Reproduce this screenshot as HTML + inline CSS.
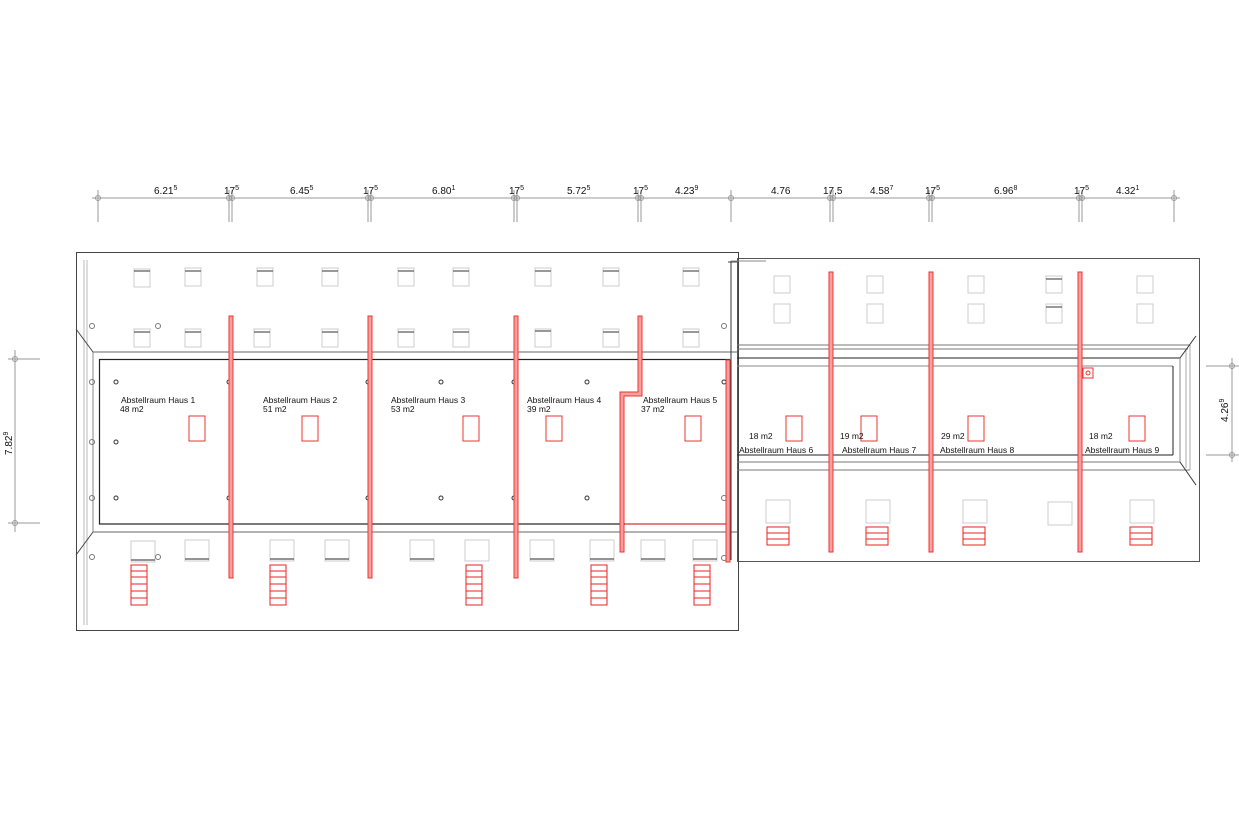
<!DOCTYPE html>
<html><head><meta charset="utf-8"><style>
html,body{margin:0;padding:0;background:#fff;width:1239px;height:820px;overflow:hidden}
svg{display:block}
text{font-family:"Liberation Sans",Arial,sans-serif;fill:#111}
</style></head><body>
<svg width="1239" height="820" viewBox="0 0 1239 820" xmlns="http://www.w3.org/2000/svg">
<!-- dimension line top -->
<g stroke="#999" stroke-width="1" fill="none">
<line x1="92" y1="198" x2="1180" y2="198"/>
<line x1="98" y1="190" x2="98" y2="222"/>
<line x1="229" y1="190" x2="229" y2="222"/><line x1="232" y1="190" x2="232" y2="222"/>
<line x1="368" y1="190" x2="368" y2="222"/><line x1="371" y1="190" x2="371" y2="222"/>
<line x1="514" y1="190" x2="514" y2="222"/><line x1="517" y1="190" x2="517" y2="222"/>
<line x1="638" y1="190" x2="638" y2="222"/><line x1="641" y1="190" x2="641" y2="222"/>
<line x1="731" y1="190" x2="731" y2="222"/>
<line x1="830" y1="190" x2="830" y2="222"/><line x1="833" y1="190" x2="833" y2="222"/>
<line x1="929" y1="190" x2="929" y2="222"/><line x1="932" y1="190" x2="932" y2="222"/>
<line x1="1079" y1="190" x2="1079" y2="222"/><line x1="1082" y1="190" x2="1082" y2="222"/>
<line x1="1174" y1="190" x2="1174" y2="222"/>
<circle cx="98" cy="198" r="2.5"/><circle cx="229" cy="198" r="2.5"/><circle cx="232" cy="198" r="2.5"/>
<circle cx="368" cy="198" r="2.5"/><circle cx="371" cy="198" r="2.5"/><circle cx="514" cy="198" r="2.5"/><circle cx="517" cy="198" r="2.5"/>
<circle cx="638" cy="198" r="2.5"/><circle cx="641" cy="198" r="2.5"/><circle cx="731" cy="198" r="2.5"/>
<circle cx="830" cy="198" r="2.5"/><circle cx="833" cy="198" r="2.5"/><circle cx="929" cy="198" r="2.5"/><circle cx="932" cy="198" r="2.5"/>
<circle cx="1079" cy="198" r="2.5"/><circle cx="1082" cy="198" r="2.5"/><circle cx="1174" cy="198" r="2.5"/>
<!-- left dim -->
<line x1="8" y1="359" x2="40" y2="359"/><line x1="8" y1="523" x2="40" y2="523"/><line x1="15" y1="350" x2="15" y2="532"/>
<circle cx="15" cy="359" r="2.5"/><circle cx="15" cy="523" r="2.5"/>
<!-- right dim -->
<line x1="1206" y1="366" x2="1239" y2="366"/><line x1="1206" y1="455" x2="1239" y2="455"/><line x1="1232" y1="358" x2="1232" y2="462"/>
<circle cx="1232" cy="366" r="2.5"/><circle cx="1232" cy="455" r="2.5"/>
</g>
<g font-size="10">
<text x="154" y="194">6.21<tspan font-size="7" dy="-4">5</tspan></text>
<text x="224" y="194">17<tspan font-size="7" dy="-4">5</tspan></text>
<text x="290" y="194">6.45<tspan font-size="7" dy="-4">5</tspan></text>
<text x="363" y="194">17<tspan font-size="7" dy="-4">5</tspan></text>
<text x="432" y="194">6.80<tspan font-size="7" dy="-4">1</tspan></text>
<text x="509" y="194">17<tspan font-size="7" dy="-4">5</tspan></text>
<text x="567" y="194">5.72<tspan font-size="7" dy="-4">5</tspan></text>
<text x="633" y="194">17<tspan font-size="7" dy="-4">5</tspan></text>
<text x="675" y="194">4.23<tspan font-size="7" dy="-4">9</tspan></text>
<text x="771" y="194">4.76</text>
<text x="823" y="194">17,5</text>
<text x="870" y="194">4.58<tspan font-size="7" dy="-4">7</tspan></text>
<text x="925" y="194">17<tspan font-size="7" dy="-4">5</tspan></text>
<text x="994" y="194">6.96<tspan font-size="7" dy="-4">8</tspan></text>
<text x="1074" y="194">17<tspan font-size="7" dy="-4">5</tspan></text>
<text x="1116" y="194">4.32<tspan font-size="7" dy="-4">1</tspan></text>
<text transform="translate(12,455) rotate(-90)">7.82<tspan font-size="7" dy="-4">9</tspan></text>
<text transform="translate(1228,422) rotate(-90)">4.26<tspan font-size="7" dy="-4">9</tspan></text>
</g>

<!-- left building -->
<g fill="none">
<rect x="76.5" y="252.5" width="662" height="378" stroke="#444"/>
<line x1="84" y1="260" x2="84" y2="625" stroke="#bbb"/><line x1="87" y1="260" x2="87" y2="625" stroke="#bbb"/>
<line x1="76" y1="329" x2="93" y2="352" stroke="#444"/><line x1="76" y1="555" x2="93" y2="532" stroke="#444"/>
<line x1="93" y1="352" x2="93" y2="532" stroke="#888"/>
<line x1="93" y1="352" x2="738" y2="352" stroke="#666"/>
<line x1="93" y1="532" x2="738" y2="532" stroke="#666"/>
<rect x="99.5" y="359.5" width="630" height="164.5" stroke="#222" stroke-width="1.2"/>
<line x1="728" y1="262" x2="738" y2="262" stroke="#444"/>
</g>
<!-- right building -->
<g fill="none">
<rect x="737.5" y="258.5" width="462" height="303" stroke="#555"/>
<line x1="731" y1="261" x2="731" y2="560" stroke="#333"/>
<line x1="731" y1="261" x2="766" y2="261" stroke="#888"/>
<line x1="737" y1="345" x2="1190" y2="345" stroke="#777"/>
<line x1="737" y1="349" x2="1188" y2="349" stroke="#777"/>
<line x1="737" y1="358" x2="1180" y2="358" stroke="#222"/>
<line x1="737" y1="366" x2="1173" y2="366" stroke="#888"/>
<line x1="737" y1="455" x2="1173" y2="455" stroke="#222"/>
<line x1="737" y1="462" x2="1180" y2="462" stroke="#777"/>
<line x1="737" y1="470" x2="1190" y2="470" stroke="#777"/>
<line x1="1173" y1="366" x2="1173" y2="455" stroke="#222"/>
<line x1="1180" y1="358" x2="1180" y2="462" stroke="#888"/>
<line x1="1186" y1="349" x2="1186" y2="468" stroke="#aaa"/>
<line x1="1190" y1="345" x2="1190" y2="470" stroke="#aaa"/>
<line x1="1180" y1="358" x2="1196" y2="336" stroke="#333"/>
<line x1="1180" y1="462" x2="1196" y2="485" stroke="#333"/>
</g>

<!-- gray windows -->
<g fill="#fff" stroke="#ccc">
<rect x="134" y="269" width="16" height="18"/><rect x="185" y="268" width="16" height="18"/><rect x="257" y="268" width="16" height="18"/><rect x="322" y="268" width="16" height="18"/><rect x="398" y="268" width="16" height="18"/><rect x="453" y="268" width="16" height="18"/><rect x="535" y="268" width="16" height="18"/><rect x="603" y="268" width="16" height="18"/><rect x="683" y="268" width="16" height="18"/>
<rect x="134" y="329" width="16" height="18"/><rect x="185" y="329" width="16" height="18"/><rect x="254" y="329" width="16" height="18"/><rect x="322" y="329" width="16" height="18"/><rect x="398" y="329" width="16" height="18"/><rect x="453" y="329" width="16" height="18"/><rect x="535" y="329" width="16" height="18"/><rect x="603" y="329" width="16" height="18"/><rect x="683" y="329" width="16" height="18"/>
<rect x="131" y="541" width="24" height="21"/><rect x="185" y="540" width="24" height="21"/><rect x="270" y="540" width="24" height="21"/><rect x="325" y="540" width="24" height="21"/><rect x="410" y="540" width="24" height="21"/><rect x="465" y="540" width="24" height="21"/><rect x="530" y="540" width="24" height="21"/><rect x="590" y="540" width="24" height="21"/><rect x="641" y="540" width="24" height="21"/><rect x="693" y="540" width="24" height="21"/>
<rect x="774" y="276" width="16" height="17"/><rect x="867" y="276" width="16" height="17"/><rect x="968" y="276" width="16" height="17"/><rect x="1046" y="276" width="16" height="17"/><rect x="1137" y="276" width="16" height="17"/>
<rect x="774" y="304" width="16" height="19"/><rect x="867" y="304" width="16" height="19"/><rect x="968" y="304" width="16" height="19"/><rect x="1046" y="304" width="16" height="19"/><rect x="1137" y="304" width="16" height="19"/>
<rect x="766" y="500" width="24" height="23"/><rect x="866" y="500" width="24" height="23"/><rect x="963" y="500" width="24" height="23"/><rect x="1048" y="502" width="24" height="23"/><rect x="1130" y="500" width="24" height="23"/>
</g>
<g stroke="#555" stroke-width="1.2">
<line x1="134" y1="271" x2="150" y2="271"/><line x1="185" y1="271" x2="201" y2="271"/><line x1="257" y1="271" x2="273" y2="271"/><line x1="322" y1="271" x2="338" y2="271"/><line x1="398" y1="271" x2="414" y2="271"/><line x1="453" y1="271" x2="469" y2="271"/><line x1="535" y1="271" x2="551" y2="271"/><line x1="603" y1="271" x2="619" y2="271"/><line x1="683" y1="271" x2="699" y2="271"/>
<line x1="134" y1="332" x2="150" y2="332"/><line x1="185" y1="332" x2="201" y2="332"/><line x1="254" y1="332" x2="270" y2="332"/><line x1="322" y1="332" x2="338" y2="332"/><line x1="398" y1="332" x2="414" y2="332"/><line x1="453" y1="332" x2="469" y2="332"/><line x1="535" y1="331" x2="551" y2="331"/><line x1="603" y1="332" x2="619" y2="332"/><line x1="683" y1="332" x2="699" y2="332"/>
<line x1="131" y1="560" x2="155" y2="560"/><line x1="185" y1="559" x2="209" y2="559"/><line x1="270" y1="559" x2="294" y2="559"/><line x1="325" y1="559" x2="349" y2="559"/><line x1="410" y1="559" x2="434" y2="559"/><line x1="530" y1="559" x2="554" y2="559"/><line x1="590" y1="559" x2="614" y2="559"/><line x1="641" y1="559" x2="665" y2="559"/><line x1="693" y1="559" x2="717" y2="559"/>
<line x1="1046" y1="279" x2="1062" y2="279"/><line x1="1046" y1="307" x2="1062" y2="307"/>
</g>
<!-- small circles -->
<g fill="none" stroke="#777">
<circle cx="92" cy="326" r="2.5"/><circle cx="158" cy="326" r="2.5"/><circle cx="92" cy="382" r="2.5"/><circle cx="92" cy="442" r="2.5"/><circle cx="92" cy="498" r="2.5"/><circle cx="92" cy="557" r="2.5"/><circle cx="158" cy="557" r="2.5"/>
<circle cx="724" cy="326" r="2.5"/><circle cx="724" cy="498" r="2.5"/><circle cx="724" cy="558" r="2.5"/>
</g>
<g fill="none" stroke="#333">
<circle cx="116" cy="382" r="2"/><circle cx="116" cy="442" r="2"/><circle cx="116" cy="498" r="2"/>
<circle cx="229" cy="382" r="2"/><circle cx="229" cy="498" r="2"/><circle cx="368" cy="382" r="2"/><circle cx="368" cy="498" r="2"/>
<circle cx="441" cy="382" r="2"/><circle cx="441" cy="498" r="2"/><circle cx="514" cy="382" r="2"/><circle cx="514" cy="498" r="2"/>
<circle cx="587" cy="382" r="2"/><circle cx="587" cy="498" r="2"/><circle cx="724" cy="382" r="2"/>
</g>
<!-- red rooms markers -->
<g fill="none" stroke="#e33" stroke-width="1">
<rect x="189" y="416" width="16" height="25"/><rect x="302" y="416" width="16" height="25"/><rect x="463" y="416" width="16" height="25"/><rect x="546" y="416" width="16" height="25"/><rect x="685" y="416" width="16" height="25"/>
<rect x="786" y="416" width="16" height="25"/><rect x="861" y="416" width="16" height="25"/><rect x="968" y="416" width="16" height="25"/><rect x="1129" y="416" width="16" height="25"/>
<rect x="1083" y="368" width="10" height="10"/><circle cx="1088" cy="373" r="2"/>
<line x1="625" y1="524" x2="728" y2="524"/>
</g>
<!-- red stairs -->
<g fill="none" stroke="#e22" stroke-width="1">
<g id="st"><rect x="131" y="565" width="16" height="40"/><line x1="131" y1="571" x2="147" y2="571"/><line x1="131" y1="577" x2="147" y2="577"/><line x1="131" y1="584" x2="147" y2="584"/><line x1="131" y1="591" x2="147" y2="591"/><line x1="131" y1="598" x2="147" y2="598"/></g>
<use href="#st" x="139"/><use href="#st" x="335"/><use href="#st" x="460"/><use href="#st" x="563"/>
<g id="rs"><rect x="767" y="527" width="22" height="18"/><line x1="767" y1="533" x2="789" y2="533"/><line x1="767" y1="539" x2="789" y2="539"/></g>
<use href="#rs" x="99"/><use href="#rs" x="196"/><use href="#rs" x="363"/>
</g>
<!-- red vertical walls -->
<g fill="#f8a0a0" stroke="#e33" stroke-width="1">
<rect x="229" y="316" width="4" height="262"/><rect x="368" y="316" width="4" height="262"/><rect x="514" y="316" width="4" height="262"/>
<rect x="726" y="360" width="4" height="202"/>
<rect x="829" y="272" width="4" height="280"/><rect x="929" y="272" width="4" height="280"/><rect x="1078" y="272" width="4" height="280"/>
<path d="M638 316 H642 V396 H624 V552 H620 V392 H638 Z"/>
</g>
<!-- labels -->
<g font-size="8.5">
<text x="121" y="403">Abstellraum Haus 1</text><text x="120" y="412">48 m2</text>
<text x="263" y="403">Abstellraum Haus 2</text><text x="263" y="412">51 m2</text>
<text x="391" y="403">Abstellraum Haus 3</text><text x="391" y="412">53 m2</text>
<text x="527" y="403">Abstellraum Haus 4</text><text x="527" y="412">39 m2</text>
<text x="643" y="403">Abstellraum Haus 5</text><text x="641" y="412">37 m2</text>
<text x="749" y="439">18 m2</text><text x="739" y="453">Abstellraum Haus 6</text>
<text x="840" y="439">19 m2</text><text x="842" y="453">Abstellraum Haus 7</text>
<text x="941" y="439">29 m2</text><text x="940" y="453">Abstellraum Haus 8</text>
<text x="1089" y="439">18 m2</text><text x="1085" y="453">Abstellraum Haus 9</text>
</g>
</svg>
</body></html>
